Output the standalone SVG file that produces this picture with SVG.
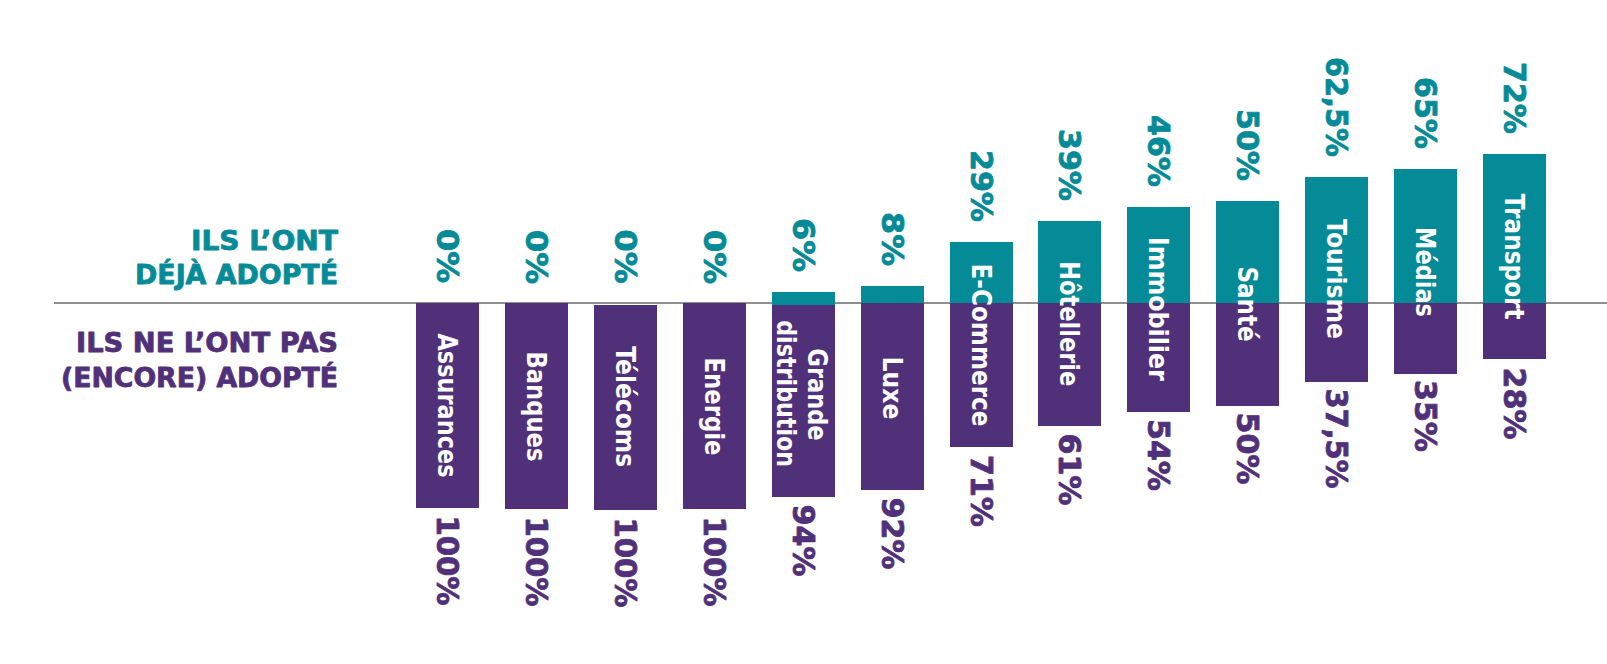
<svg xmlns="http://www.w3.org/2000/svg" width="1607" height="664" viewBox="0 0 1607 664">
<style>
text{font-family:"DejaVu Sans","Verdana",sans-serif;font-weight:bold;stroke-width:0.8px;stroke-linejoin:round}
.t{fill:#058B97;stroke:#058B97}
.p{fill:#51307A;stroke:#51307A}
.bt{fill:#058B97}
.bp{fill:#51307A}
.lab{fill:#ffffff;stroke:none;font-size:27px;text-anchor:middle}
.pct{font-size:30px}
.up{text-anchor:end}
.dn{text-anchor:start}
.hd{font-size:26px;text-anchor:end}
</style>
<rect width="1607" height="664" fill="#ffffff"/>
<g id="connectors">
<line x1="54" y1="303" x2="1607" y2="303" stroke="#6b6b6b" stroke-width="1.5"/>
</g>
<g id="legend">
<text class="hd t" x="338" y="249.5" textLength="147" lengthAdjust="spacingAndGlyphs">ILS L’ONT</text>
<text class="hd t" x="338" y="284" textLength="203" lengthAdjust="spacingAndGlyphs">DÉJÀ ADOPTÉ</text>
<text class="hd p" x="338" y="351.7" textLength="262" lengthAdjust="spacingAndGlyphs">ILS NE L’ONT PAS</text>
<text class="hd p" x="338" y="387" textLength="277" lengthAdjust="spacingAndGlyphs">(ENCORE) ADOPTÉ</text>
</g>
<g id="assurances">
<rect class="bp" x="416" y="303" width="63" height="205"/>
<text class="lab" transform="translate(447.5,405.5) rotate(90)" y="10" textLength="144" lengthAdjust="spacingAndGlyphs">Assurances</text>
<text class="pct up t" transform="translate(447.5,283) rotate(90)" y="11" textLength="54" lengthAdjust="spacingAndGlyphs">0%</text>
<text class="pct dn p" transform="translate(447.5,515.5) rotate(90)" y="11" textLength="90" lengthAdjust="spacingAndGlyphs">100%</text>
</g>
<g id="banques">
<rect class="bp" x="505" y="303" width="63" height="206"/>
<text class="lab" transform="translate(536.5,406.5) rotate(90)" y="10" textLength="110" lengthAdjust="spacingAndGlyphs">Banques</text>
<text class="pct up t" transform="translate(536.5,284) rotate(90)" y="11" textLength="54" lengthAdjust="spacingAndGlyphs">0%</text>
<text class="pct dn p" transform="translate(536.5,516.5) rotate(90)" y="11" textLength="90" lengthAdjust="spacingAndGlyphs">100%</text>
</g>
<g id="telecoms">
<rect class="bp" x="594" y="305" width="63" height="205"/>
<text class="lab" transform="translate(625.5,406.7) rotate(90)" y="10" textLength="121" lengthAdjust="spacingAndGlyphs">Télécoms</text>
<text class="pct up t" transform="translate(625.5,283.5) rotate(90)" y="11" textLength="54" lengthAdjust="spacingAndGlyphs">0%</text>
<text class="pct dn p" transform="translate(625.5,517.5) rotate(90)" y="11" textLength="90" lengthAdjust="spacingAndGlyphs">100%</text>
</g>
<g id="energie">
<rect class="bp" x="683" y="303" width="63" height="206"/>
<text class="lab" transform="translate(714.5,406.5) rotate(90)" y="10" textLength="98" lengthAdjust="spacingAndGlyphs">Energie</text>
<text class="pct up t" transform="translate(714.5,284) rotate(90)" y="11" textLength="54" lengthAdjust="spacingAndGlyphs">0%</text>
<text class="pct dn p" transform="translate(714.5,516.5) rotate(90)" y="11" textLength="90" lengthAdjust="spacingAndGlyphs">100%</text>
</g>
<g id="grande-distribution">
<rect class="bt" x="772" y="292" width="63" height="13"/>
<rect class="bp" x="772" y="305" width="63" height="192"/>
<text class="lab" transform="translate(803.5,394.5) rotate(90)" y="-4" textLength="92" lengthAdjust="spacingAndGlyphs">Grande</text>
<text class="lab" transform="translate(803.5,393.7) rotate(90)" y="27" textLength="147" lengthAdjust="spacingAndGlyphs">distribution</text>
<text class="pct up t" transform="translate(803.5,272) rotate(90)" y="11" textLength="54" lengthAdjust="spacingAndGlyphs">6%</text>
<text class="pct dn p" transform="translate(803.5,504.5) rotate(90)" y="11" textLength="72" lengthAdjust="spacingAndGlyphs">94%</text>
</g>
<g id="luxe">
<rect class="bt" x="861" y="286" width="63" height="17"/>
<rect class="bp" x="861" y="303" width="63" height="187"/>
<text class="lab" transform="translate(892.5,388) rotate(90)" y="10" textLength="63" lengthAdjust="spacingAndGlyphs">Luxe</text>
<text class="pct up t" transform="translate(892.5,266) rotate(90)" y="11" textLength="54" lengthAdjust="spacingAndGlyphs">8%</text>
<text class="pct dn p" transform="translate(892.5,497.5) rotate(90)" y="11" textLength="72" lengthAdjust="spacingAndGlyphs">92%</text>
</g>
<g id="e-commerce">
<rect class="bt" x="950" y="242" width="63" height="61"/>
<rect class="bp" x="950" y="303" width="63" height="144"/>
<text class="lab" transform="translate(981.5,345) rotate(90)" y="10" textLength="163" lengthAdjust="spacingAndGlyphs">E-Commerce</text>
<text class="pct up t" transform="translate(981.5,222) rotate(90)" y="11" textLength="72" lengthAdjust="spacingAndGlyphs">29%</text>
<text class="pct dn p" transform="translate(981.5,455) rotate(90)" y="11" textLength="72" lengthAdjust="spacingAndGlyphs">71%</text>
</g>
<g id="hotellerie">
<rect class="bt" x="1038" y="221" width="63" height="82"/>
<rect class="bp" x="1038" y="303" width="63" height="123"/>
<text class="lab" transform="translate(1069.5,323.8) rotate(90)" y="10" textLength="125" lengthAdjust="spacingAndGlyphs">Hôtellerie</text>
<text class="pct up t" transform="translate(1069.5,201) rotate(90)" y="11" textLength="72" lengthAdjust="spacingAndGlyphs">39%</text>
<text class="pct dn p" transform="translate(1069.5,433.5) rotate(90)" y="11" textLength="72" lengthAdjust="spacingAndGlyphs">61%</text>
</g>
<g id="immobilier">
<rect class="bt" x="1127" y="207" width="63" height="96"/>
<rect class="bp" x="1127" y="303" width="63" height="109"/>
<text class="lab" transform="translate(1158.5,308.8) rotate(90)" y="10" textLength="144" lengthAdjust="spacingAndGlyphs">Immobilier</text>
<text class="pct up t" transform="translate(1158.5,187) rotate(90)" y="11" textLength="72" lengthAdjust="spacingAndGlyphs">46%</text>
<text class="pct dn p" transform="translate(1158.5,419) rotate(90)" y="11" textLength="72" lengthAdjust="spacingAndGlyphs">54%</text>
</g>
<g id="sante">
<rect class="bt" x="1216" y="201" width="63" height="102"/>
<rect class="bp" x="1216" y="303" width="63" height="103"/>
<text class="lab" transform="translate(1247.5,304) rotate(90)" y="10" textLength="75" lengthAdjust="spacingAndGlyphs">Santé</text>
<text class="pct up t" transform="translate(1247.5,181) rotate(90)" y="11" textLength="72" lengthAdjust="spacingAndGlyphs">50%</text>
<text class="pct dn p" transform="translate(1247.5,412.5) rotate(90)" y="11" textLength="72" lengthAdjust="spacingAndGlyphs">50%</text>
</g>
<g id="tourisme">
<rect class="bt" x="1305" y="177" width="63" height="126"/>
<rect class="bp" x="1305" y="303" width="63" height="79"/>
<text class="lab" transform="translate(1336.5,279) rotate(90)" y="10" textLength="120" lengthAdjust="spacingAndGlyphs">Tourisme</text>
<text class="pct up t" transform="translate(1336.5,157) rotate(90)" y="11" textLength="100" lengthAdjust="spacingAndGlyphs">62,5%</text>
<text class="pct dn p" transform="translate(1336.5,388.5) rotate(90)" y="11" textLength="100" lengthAdjust="spacingAndGlyphs">37,5%</text>
</g>
<g id="medias">
<rect class="bt" x="1394" y="169" width="63" height="134"/>
<rect class="bp" x="1394" y="303" width="63" height="71"/>
<text class="lab" transform="translate(1425.5,272) rotate(90)" y="10" textLength="90" lengthAdjust="spacingAndGlyphs">Médias</text>
<text class="pct up t" transform="translate(1425.5,149) rotate(90)" y="11" textLength="72" lengthAdjust="spacingAndGlyphs">65%</text>
<text class="pct dn p" transform="translate(1425.5,380) rotate(90)" y="11" textLength="72" lengthAdjust="spacingAndGlyphs">35%</text>
</g>
<g id="transport">
<rect class="bt" x="1483" y="154" width="63" height="149"/>
<rect class="bp" x="1483" y="303" width="63" height="56"/>
<text class="lab" transform="translate(1514.5,256.7) rotate(90)" y="10" textLength="126" lengthAdjust="spacingAndGlyphs">Transport</text>
<text class="pct up t" transform="translate(1514.5,134) rotate(90)" y="11" textLength="72" lengthAdjust="spacingAndGlyphs">72%</text>
<text class="pct dn p" transform="translate(1514.5,367.5) rotate(90)" y="11" textLength="72" lengthAdjust="spacingAndGlyphs">28%</text>
</g>
</svg>
